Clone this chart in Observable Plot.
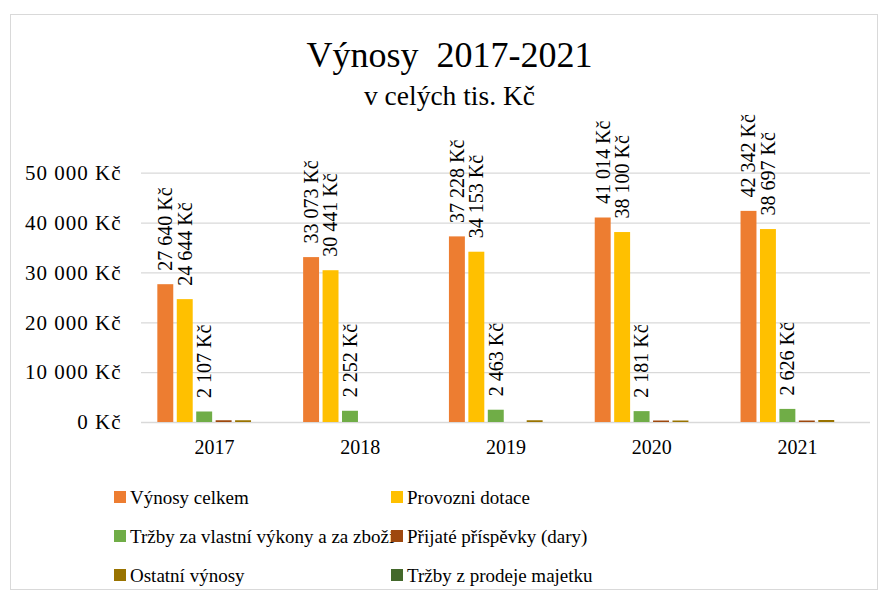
<!DOCTYPE html>
<html>
<head>
<meta charset="utf-8">
<script src="https://cdn.jsdelivr.net/npm/d3@7"></script>
<script src="https://cdn.jsdelivr.net/npm/@observablehq/plot@0.6"></script>
<style>
  html, body { margin: 0; padding: 0; background: #fff; }
  #wrap { position: relative; width: 883px; height: 596px; font-family: "Liberation Serif", "Times New Roman", serif; color: #000; overflow: hidden; }
  #frame { position: absolute; left: 10px; top: 14px; width: 868px; height: 576px; border: 1.5px solid #d9d9d9; box-sizing: border-box; }
  #title { position: absolute; left: 0; width: 899px; top: 37px; text-align: center; font-family: "Liberation Serif", serif; font-size: 36px; line-height: 1; white-space: pre; }
  #subtitle { position: absolute; left: 0; width: 899px; top: 82px; text-align: center; font-family: "Liberation Serif", serif; font-size: 27.5px; line-height: 1; }
  .layer { position: absolute; left: 0; top: 100px; }
  #legend { position: absolute; left: 0; top: 470px; }
</style>
</head>
<body>
<div id="wrap">
  <div id="frame"></div>
  <div id="title">Výnosy  2017-2021</div>
  <div id="subtitle">v celých tis. Kč</div>
  <div id="bg" class="layer"></div>
  <div id="fg" class="layer"></div>
  <div id="legend"></div>
</div>
<script>
// ---- data ----
const years = ["2017", "2018", "2019", "2020", "2021"];
const seriesNames = [
  "Výnosy celkem",
  "Provozní dotace",
  "Tržby za vlastní výkony a za zboží",
  "Přijaté příspěvky (dary)",
  "Ostatní výnosy",
  "Tržby z prodeje majetku"
];
const legendLabels = [
  "Výnosy celkem",
  "Provozni dotace",
  "Tržby za vlastní výkony a za zboží",
  "Přijaté příspěvky (dary)",
  "Ostatní výnosy",
  "Tržby z prodeje majetku"
];
const vynosyCelkem     = [27640, 33073, 37228, 41014, 42342];
const provozniDotace   = [24644, 30441, 34153, 38100, 38697];
const trzbyVlastni     = [2107, 2252, 2463, 2181, 2626];
const prijatePrispevky = [350, 0, 0, 300, 300];
const ostatniVynosy    = [350, 0, 350, 300, 400];
const trzbyProdej      = [0, 0, 0, 0, 0];
const labeledSeries = ["Výnosy celkem", "Provozní dotace", "Tržby za vlastní výkony a za zboží"];
const yTicks = [0, 10000, 20000, 30000, 40000, 50000];
const colors = ["#ED7D31", "#FFC000", "#70AD47", "#9E480E", "#997300", "#43682B"];

const seriesValues = [vynosyCelkem, provozniDotace, trzbyVlastni, prijatePrispevky, ostatniVynosy, trzbyProdej];
const data = [];
years.forEach((y, i) => seriesNames.forEach((s, j) => data.push({year: y, series: s, value: seriesValues[j][i]})));
const labelData = data.filter(d => labeledSeries.includes(d.series));

const loc = d3.formatLocale({decimal: ",", thousands: "\u00a0", grouping: [3], currency: ["", "\u00a0Kč"]});
const fmt = loc.format("$,.0f");

const W = 883, H = 360;
const M = {left: 141, right: 13, top: 72.7, bottom: 38};

const bg = Plot.plot({
  width: W, height: H,
  marginLeft: M.left, marginRight: M.right, marginTop: M.top, marginBottom: M.bottom,
  style: {fontFamily: "Liberation Serif", fontSize: "21px", color: "#000", background: "transparent", letterSpacing: "1px"},
  y: {domain: [0, 50000], ticks: yTicks, tickFormat: fmt, tickSize: 0, tickPadding: 20, label: null},
  marks: [
    Plot.ruleY(yTicks, {stroke: "#d9d9d9", strokeWidth: 1.3})
  ]
});
document.getElementById("bg").appendChild(bg);

const fg = Plot.plot({
  width: W, height: H,
  marginLeft: M.left, marginRight: M.right, marginTop: M.top, marginBottom: M.bottom,
  style: {fontFamily: "Liberation Serif", fontSize: "20px", color: "#000", background: "transparent", overflow: "visible"},
  fx: {domain: years, axis: "bottom", paddingInner: 0.2, paddingOuter: 0.1, round: false, tickSize: 0, tickPadding: 17, label: null},
  x: {domain: seriesNames, axis: null, paddingInner: 0.18, paddingOuter: 0.09, round: false},
  y: {domain: [0, 50000], axis: null},
  color: {domain: seriesNames, range: colors},
  marks: [
    Plot.barY(data, {fx: "year", x: "series", y: "value", fill: "series"}),
    Plot.text(labelData, {fx: "year", x: "series", y: "value", text: d => fmt(d.value), rotate: -90, textAnchor: "start", dy: -14, fontSize: 20, fill: "#000"})
  ]
});
document.getElementById("fg").appendChild(fg);

// legend
const colX = [114, 391];
const rowY = [27, 66, 105]; // relative to legend top (470)
const lsvg = d3.create("svg").attr("width", 883).attr("height", 126)
  .style("font-family", "'Liberation Serif', 'Times New Roman', serif").style("font-size", "19px");
legendLabels.forEach((lab, i) => {
  const gx = colX[i % 2], gy = rowY[Math.floor(i / 2)];
  const g = lsvg.append("g").attr("transform", `translate(${gx},${gy})`);
  g.append("rect").attr("x", 0).attr("y", -6).attr("width", 12).attr("height", 12).attr("fill", colors[i]);
  g.append("text").attr("x", 16).attr("y", 6.5).attr("fill", "#000").text(lab);
});
document.getElementById("legend").appendChild(lsvg.node());
</script>
</body>
</html>
